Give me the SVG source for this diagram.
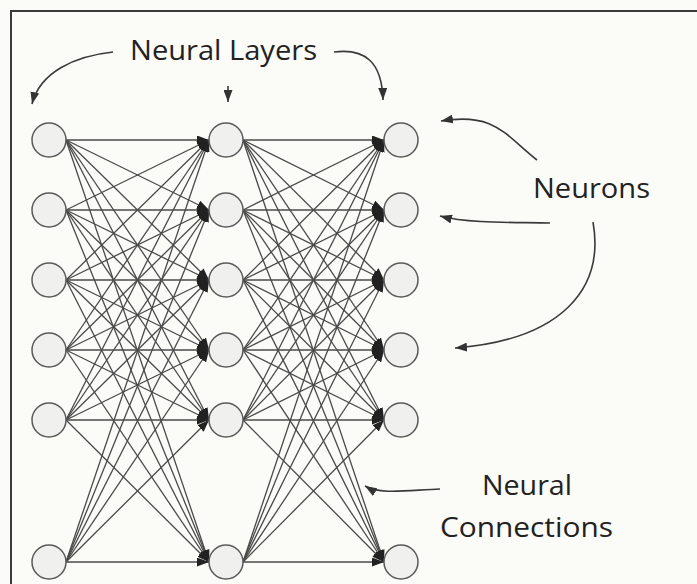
<svg xmlns="http://www.w3.org/2000/svg" width="697" height="584" viewBox="0 0 697 584">
<defs>
<marker id="ah" markerUnits="userSpaceOnUse" markerWidth="12" markerHeight="9" refX="12" refY="4.5" orient="auto"><path d="M0,0 L12,4.5 L0,9 z" fill="#222"/></marker>
<marker id="ah2" markerUnits="userSpaceOnUse" markerWidth="12" markerHeight="9" refX="12" refY="4.5" orient="auto"><path d="M0,0 L12,4.5 L0,9 z" fill="#333"/></marker>
<style>
.node circle{fill:#f0f0ee;stroke:#5a5a5a;stroke-width:1.5}
#connectors line{stroke:#4a4a4a;stroke-width:1.3;marker-end:url(#ah)}
#annotations path{fill:none;stroke:#3a3a3a;stroke-width:1.6;marker-end:url(#ah2)}
.lbl{font-family:"Open Sans","Noto Sans","Liberation Sans",sans-serif;font-size:28px;fill:#222}
</style>
</defs>
<rect x="0" y="0" width="697" height="584" fill="#fbfbf7"/>
<path d="M11,584 L11,11 L697,11" fill="none" stroke="#3a3a3a" stroke-width="2"/>
<g id="connectors">
<line x1="66" y1="140" x2="209" y2="140"/><line x1="66" y1="140" x2="209" y2="210"/><line x1="66" y1="140" x2="209" y2="280"/><line x1="66" y1="140" x2="209" y2="350"/><line x1="66" y1="140" x2="209" y2="420"/><line x1="66" y1="140" x2="209" y2="562"/>
<line x1="66" y1="210" x2="209" y2="140"/><line x1="66" y1="210" x2="209" y2="210"/><line x1="66" y1="210" x2="209" y2="280"/><line x1="66" y1="210" x2="209" y2="350"/><line x1="66" y1="210" x2="209" y2="420"/><line x1="66" y1="210" x2="209" y2="562"/>
<line x1="66" y1="280" x2="209" y2="140"/><line x1="66" y1="280" x2="209" y2="210"/><line x1="66" y1="280" x2="209" y2="280"/><line x1="66" y1="280" x2="209" y2="350"/><line x1="66" y1="280" x2="209" y2="420"/><line x1="66" y1="280" x2="209" y2="562"/>
<line x1="66" y1="350" x2="209" y2="140"/><line x1="66" y1="350" x2="209" y2="210"/><line x1="66" y1="350" x2="209" y2="280"/><line x1="66" y1="350" x2="209" y2="350"/><line x1="66" y1="350" x2="209" y2="420"/><line x1="66" y1="350" x2="209" y2="562"/>
<line x1="66" y1="420" x2="209" y2="140"/><line x1="66" y1="420" x2="209" y2="210"/><line x1="66" y1="420" x2="209" y2="280"/><line x1="66" y1="420" x2="209" y2="350"/><line x1="66" y1="420" x2="209" y2="420"/><line x1="66" y1="420" x2="209" y2="562"/>
<line x1="66" y1="562" x2="209" y2="140"/><line x1="66" y1="562" x2="209" y2="210"/><line x1="66" y1="562" x2="209" y2="280"/><line x1="66" y1="562" x2="209" y2="350"/><line x1="66" y1="562" x2="209" y2="420"/><line x1="66" y1="562" x2="209" y2="562"/>
<line x1="243" y1="140" x2="384" y2="140"/><line x1="243" y1="140" x2="384" y2="210"/><line x1="243" y1="140" x2="384" y2="280"/><line x1="243" y1="140" x2="384" y2="350"/><line x1="243" y1="140" x2="384" y2="420"/><line x1="243" y1="140" x2="384" y2="562"/>
<line x1="243" y1="210" x2="384" y2="140"/><line x1="243" y1="210" x2="384" y2="210"/><line x1="243" y1="210" x2="384" y2="280"/><line x1="243" y1="210" x2="384" y2="350"/><line x1="243" y1="210" x2="384" y2="420"/><line x1="243" y1="210" x2="384" y2="562"/>
<line x1="243" y1="280" x2="384" y2="140"/><line x1="243" y1="280" x2="384" y2="210"/><line x1="243" y1="280" x2="384" y2="280"/><line x1="243" y1="280" x2="384" y2="350"/><line x1="243" y1="280" x2="384" y2="420"/><line x1="243" y1="280" x2="384" y2="562"/>
<line x1="243" y1="350" x2="384" y2="140"/><line x1="243" y1="350" x2="384" y2="210"/><line x1="243" y1="350" x2="384" y2="280"/><line x1="243" y1="350" x2="384" y2="350"/><line x1="243" y1="350" x2="384" y2="420"/><line x1="243" y1="350" x2="384" y2="562"/>
<line x1="243" y1="420" x2="384" y2="140"/><line x1="243" y1="420" x2="384" y2="210"/><line x1="243" y1="420" x2="384" y2="280"/><line x1="243" y1="420" x2="384" y2="350"/><line x1="243" y1="420" x2="384" y2="420"/><line x1="243" y1="420" x2="384" y2="562"/>
<line x1="243" y1="562" x2="384" y2="140"/><line x1="243" y1="562" x2="384" y2="210"/><line x1="243" y1="562" x2="384" y2="280"/><line x1="243" y1="562" x2="384" y2="350"/><line x1="243" y1="562" x2="384" y2="420"/><line x1="243" y1="562" x2="384" y2="562"/>
</g>
<g id="annotations">
<path d="M113,52 C75,56 40,72 32,104"/>
<path d="M228,86 L228,102"/>
<path d="M334,52 C365,48 382,62 383,100"/>
<path d="M537,160 C505,135 495,112 441,121"/>
<path d="M550,223 C520,222 470,224 440,216"/>
<path d="M593,222 C605,290 560,340 455,348"/>
<path d="M440,489 C410,490 380,495 365,486"/>
</g>
<g id="n-1-1" class="node"><circle cx="49" cy="140" r="17"/></g>
<g id="n-1-2" class="node"><circle cx="49" cy="210" r="17"/></g>
<g id="n-1-3" class="node"><circle cx="49" cy="280" r="17"/></g>
<g id="n-1-4" class="node"><circle cx="49" cy="350" r="17"/></g>
<g id="n-1-5" class="node"><circle cx="49" cy="420" r="17"/></g>
<g id="n-1-6" class="node"><circle cx="49" cy="562" r="17"/></g>
<g id="n-2-1" class="node"><circle cx="226" cy="140" r="17"/></g>
<g id="n-2-2" class="node"><circle cx="226" cy="210" r="17"/></g>
<g id="n-2-3" class="node"><circle cx="226" cy="280" r="17"/></g>
<g id="n-2-4" class="node"><circle cx="226" cy="350" r="17"/></g>
<g id="n-2-5" class="node"><circle cx="226" cy="420" r="17"/></g>
<g id="n-2-6" class="node"><circle cx="226" cy="562" r="17"/></g>
<g id="n-3-1" class="node"><circle cx="401" cy="140" r="17"/></g>
<g id="n-3-2" class="node"><circle cx="401" cy="210" r="17"/></g>
<g id="n-3-3" class="node"><circle cx="401" cy="280" r="17"/></g>
<g id="n-3-4" class="node"><circle cx="401" cy="350" r="17"/></g>
<g id="n-3-5" class="node"><circle cx="401" cy="420" r="17"/></g>
<g id="n-3-6" class="node"><circle cx="401" cy="562" r="17"/></g>
<g id="labels">
<text class="lbl" x="130" y="60" textLength="187" lengthAdjust="spacingAndGlyphs">Neural Layers</text>
<text class="lbl" x="533" y="198" textLength="117" lengthAdjust="spacingAndGlyphs">Neurons</text>
<text class="lbl" x="482" y="495" textLength="90" lengthAdjust="spacingAndGlyphs">Neural</text>
<text class="lbl" x="440" y="537" textLength="173" lengthAdjust="spacingAndGlyphs">Connections</text>
</g>
</svg>
